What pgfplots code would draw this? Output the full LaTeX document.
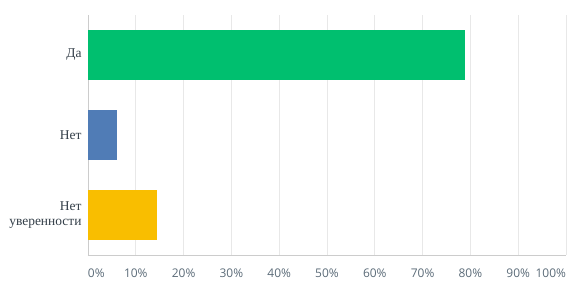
\documentclass[border=0pt]{standalone}
\usepackage{pgfplots}
\pgfplotsset{compat=1.18}
\usepackage{fontspec}
\setmainfont{Liberation Serif}
\newfontfamily\ticksans{Open Sans}
\definecolor{cgreen}{HTML}{00BF6F}
\definecolor{cblue}{HTML}{507CB6}
\definecolor{cyellow}{HTML}{F9BE00}
\definecolor{gridc}{HTML}{E8E8E8}
\definecolor{axc}{HTML}{CCCCCC}
\definecolor{tickc}{HTML}{5B6B78}
\definecolor{labc}{HTML}{333E48}
\begin{document}
\begin{tikzpicture}
\useasboundingbox (-88bp,-33bp) rectangle (495bp,255bp);
\begin{axis}[
  at={(0,0)}, anchor=south west,
  scale only axis, width=478bp, height=240bp,
  xbar, bar width=50bp, bar shift=0pt,
  xmin=0, xmax=100, ymin=-0.5, ymax=2.5, y dir=reverse,
  xtick={0,10,...,100},
  xticklabels={\makebox[0pt][l]{0\%},10\%,20\%,30\%,40\%,50\%,60\%,70\%,80\%,90\%,\makebox[0pt][r]{100\%}},
  ytick={0,1,2},
  yticklabels={Да,Нет,{Нет\\уверенности}},
  yticklabel style={align=right, font=\fontsize{13.5}{15}\selectfont, text=labc, xshift=-3bp},
  xticklabel style={font=\ticksans\fontsize{12}{13}\selectfont, text=tickc, yshift=-10bp},
  xmajorgrids, grid style={gridc, line width=0.8pt},
  major tick length=0pt,
  axis x line*=bottom, axis y line*=left,
  x axis line style={axc, line width=0.8pt, -},
  y axis line style={axc, line width=1pt, -},
]
\addplot[draw=none, fill=cgreen] coordinates {(78.9,0)};
\addplot[draw=none, fill=cblue] coordinates {(6.1,1)};
\addplot[draw=none, fill=cyellow] coordinates {(14.4,2)};
\end{axis}
\end{tikzpicture}
\end{document}
